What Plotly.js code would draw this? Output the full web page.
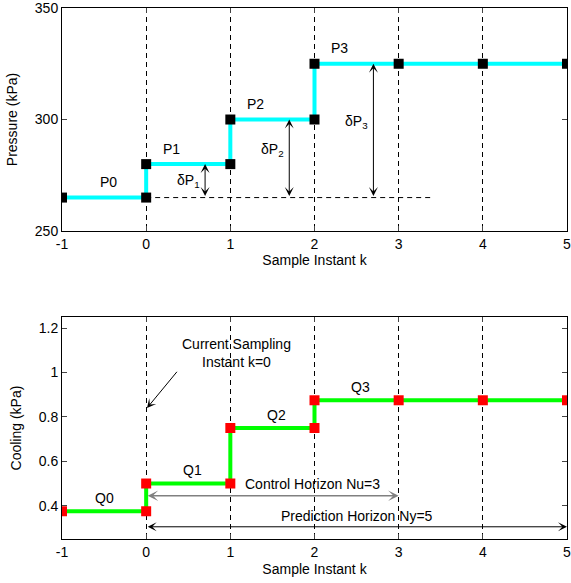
<!DOCTYPE html>
<html>
<head>
<meta charset="utf-8">
<script src="https://cdn.plot.ly/plotly-3.0.1.min.js"></script>
<style>html,body{margin:0;padding:0;background:#fff;}#chart{width:571px;height:583px;}</style>
</head>
<body>
<div id="chart"></div>
<script>
// ---- data ----
const k = [-1, 0, 1, 2, 3, 4, 5];
const P = [265, 280, 300, 325, 325, 325, 325];
const Q = [0.375, 0.5, 0.75, 0.875, 0.875, 0.875, 0.875];
const pNames = ['P0', 'P1', 'P2', 'P3'];
const qNames = ['Q0', 'Q1', 'Q2', 'Q3'];
const dNames = ['1', '2', '3'];
const pTicks = [250, 300, 350];
const qTicks = [0.4, 0.6, 0.8, 1, 1.2];
const nu = 3;
const ny = 5;

function steps(xs, ys) {
  const sx = [], sy = [];
  for (let i = 0; i < xs.length; i++) {
    if (i > 0 && ys[i] !== ys[i - 1]) { sx.push(xs[i]); sy.push(ys[i - 1]); }
    sx.push(xs[i]); sy.push(ys[i]);
  }
  return {x: sx, y: sy};
}
const sp = steps(k, P), sq = steps(k, Q);
const FONT = 'Liberation Sans, Arial, sans-serif';

const traces = [
  {x: sp.x, y: sp.y, xaxis: 'x', yaxis: 'y', mode: 'lines+markers',
   line: {color: '#00ffff', width: 4}, marker: {symbol: 'square', size: 10, color: '#000'}},
  {x: sq.x, y: sq.y, xaxis: 'x2', yaxis: 'y2', mode: 'lines+markers',
   line: {color: '#00ff00', width: 4}, marker: {symbol: 'square', size: 10, color: '#ff0000'}}
];

const ann = [];
const lblFont = {family: FONT, size: 14, color: '#000'};
// P labels
pNames.forEach((n, i) => ann.push({xref: 'x', yref: 'y', x: k[i] + (i === 0 ? 0.55 : 0.3), y: P[i] + 7,
  text: n, showarrow: false, font: lblFont}));
// Q labels
qNames.forEach((n, i) => ann.push({xref: 'x2', yref: 'y2', x: k[i] + (i === 0 ? 0.5 : 0.55), y: Q[i] + 0.06,
  text: n, showarrow: false, font: lblFont}));
// delta P arrows and labels
dNames.forEach((n, j) => {
  const i = j + 1;
  ann.push({xref: 'x', yref: 'y', axref: 'x', ayref: 'y', x: k[i] + 0.7, y: P[i], ax: k[i] + 0.7, ay: P[0],
    text: '', showarrow: true, arrowside: 'end+start', arrowhead: 3, startarrowhead: 3,
    arrowsize: 1.5, startarrowsize: 1.5, arrowwidth: 1, arrowcolor: '#000', standoff: 0, startstandoff: 0});
  ann.push({xref: 'x', yref: 'y', x: k[i] + 0.5, y: (P[i] + P[0]) / 2 + (i === 1 ? 0 : 4),
    text: 'δP<sub>' + n + '</sub>', showarrow: false, font: lblFont});
});
// current sampling
ann.push({xref: 'x2', yref: 'y2', x: 1.07, y: 1.088, text: 'Current Sampling<br>Instant k=0',
  showarrow: false, font: lblFont});
ann.push({xref: 'x2', yref: 'y2', axref: 'x2', ayref: 'y2', x: 0.01, y: 0.84, ax: 0.38, ay: 1.01,
  text: '', showarrow: true, arrowhead: 3, arrowsize: 1.5, arrowwidth: 1, arrowcolor: '#000', standoff: 0});
// control horizon
ann.push({xref: 'x2', yref: 'y2', axref: 'x2', ayref: 'y2', x: k[1] + nu, y: 0.445, ax: k[1], ay: 0.445,
  text: '', showarrow: true, arrowside: 'end+start', arrowhead: 3, startarrowhead: 3,
  arrowsize: 1.1, startarrowsize: 1.1, arrowwidth: 1.6, arrowcolor: '#808080', standoff: 0, startstandoff: 0});
ann.push({xref: 'x2', yref: 'y2', x: 1.98, y: 0.50, text: 'Control Horizon Nu=3', showarrow: false, font: lblFont});
// prediction horizon
ann.push({xref: 'x2', yref: 'y2', axref: 'x2', ayref: 'y2', x: k[1] + ny, y: 0.305, ax: k[1], ay: 0.305,
  text: '', showarrow: true, arrowside: 'end+start', arrowhead: 3, startarrowhead: 3,
  arrowsize: 1.5, startarrowsize: 1.5, arrowwidth: 1, arrowcolor: '#000', standoff: 0, startstandoff: 0});
ann.push({xref: 'x2', yref: 'y2', x: 2.51, y: 0.354, text: 'Prediction Horizon Ny=5', showarrow: false, font: lblFont});

const shapes = [
  {type: 'line', xref: 'x', yref: 'y', x0: 0, x1: 3.4, y0: P[0], y1: P[0],
   line: {color: '#000', width: 1, dash: '5px,4px'}}
];

const tickFont = {family: FONT, size: 14, color: '#000'};
const xax = {range: [-1, 5], tickmode: 'array', tickvals: k, ticktext: k.map(String),
  ticks: 'inside', ticklen: 5, mirror: 'ticks', ticklabeloverflow: 'allow',
  showline: true, linecolor: '#000', linewidth: 1, showgrid: true, gridcolor: '#000', gridwidth: 1,
  griddash: '5px,4px', zeroline: false, tickfont: tickFont};
const yax = {ticks: 'inside', ticklen: 5, mirror: 'ticks', showline: true, linecolor: '#000', linewidth: 1,
  showgrid: false, zeroline: false, tickfont: tickFont, tickmode: 'array', ticklabeloverflow: 'allow'};

const layout = {
  width: 571, height: 583, margin: {l: 62, r: 4, t: 8, b: 44},
  paper_bgcolor: '#fff', plot_bgcolor: '#fff', showlegend: false,
  xaxis: Object.assign({}, xax, {anchor: 'y', title: {text: 'Sample Instant k', font: tickFont, standoff: 2}}),
  yaxis: Object.assign({}, yax, {domain: [0.58, 1], range: [250, 350], tickvals: pTicks,
    ticktext: pTicks.map(String), title: {text: 'Pressure (kPa)', font: tickFont, standoff: 13}}),
  xaxis2: Object.assign({}, xax, {anchor: 'y2', title: {text: 'Sample Instant k', font: tickFont, standoff: 5}}),
  yaxis2: Object.assign({}, yax, {domain: [0, 0.418], range: [0.25, 1.25], tickvals: qTicks,
    ticktext: qTicks.map(String), title: {text: 'Cooling (kPa)', font: tickFont, standoff: 13}}),
  annotations: ann, shapes: shapes
};

Plotly.newPlot('chart', traces, layout, {displayModeBar: false, staticPlot: true});
</script>
</body>
</html>
